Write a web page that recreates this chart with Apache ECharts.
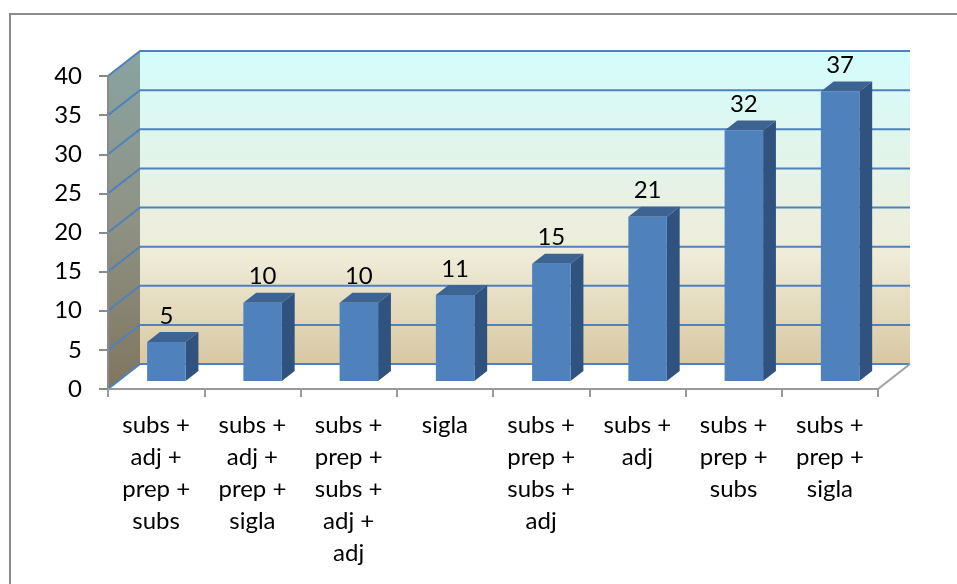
<!DOCTYPE html>
<html>
<head>
<meta charset="utf-8">
<title>Estruturas</title>
<script src="https://cdn.jsdelivr.net/npm/echarts@6/dist/echarts.min.js"></script>
<style>
  html, body { margin: 0; padding: 0; background: #ffffff; }
  #chart { width: 957px; height: 584px; }
</style>
</head>
<body>
<div id="chart"></div>
<script>
// Categories (multi-line labels) and their counts
const categories = [
  'subs +\nadj +\nprep +\nsubs',
  'subs +\nadj +\nprep +\nsigla',
  'subs +\nprep +\nsubs +\nadj +\nadj',
  'sigla',
  'subs +\nprep +\nsubs +\nadj',
  'subs +\nadj',
  'subs +\nprep +\nsubs',
  'subs +\nprep +\nsigla'
];
const values = [5, 10, 10, 11, 15, 21, 32, 37];

// Value axis ticks
const yMin = 0;
const yMax = 40;
const yStep = 5;
const yTicks = [0, 5, 10, 15, 20, 25, 30, 35, 40];

// Oblique depth of the box (back wall offset from the front plane)
const DEPTH = { x: 32, y: -25 };
// Bars sit inside the box: front face at this depth fraction, with this thickness
const BAR_FRONT = 0.32;
const BAR_DEPTH = 0.40;
const BAR_WIDTH = 0.40;

const FONT = 'Lato, "Open Sans", sans-serif';
const FONT_SIZE = 24;

const chart = echarts.init(document.getElementById('chart'), null, { renderer: 'canvas' });

function wallsRender(params, api) {
  const cs = params.coordSys;
  const x0 = cs.x, x1 = cs.x + cs.width;
  const top = api.coord([0, yMax])[1];
  const bot = api.coord([0, yMin])[1];
  const dx = DEPTH.x, dy = DEPTH.y;
  const children = [];

  // back wall
  children.push({
    type: 'polygon',
    shape: { points: [[x0 + dx, top + dy], [x1 + dx, top + dy], [x1 + dx, bot + dy], [x0 + dx, bot + dy]] },
    style: {
      fill: new echarts.graphic.LinearGradient(0, 0, 0, 1, [
        { offset: 0, color: '#d3fdfd' },
        { offset: 0.35, color: '#e3f4ea' },
        { offset: 0.65, color: '#efecd9' },
        { offset: 1, color: '#d8c8a2' }
      ])
    }
  });
  // side wall
  children.push({
    type: 'polygon',
    shape: { points: [[x0, top], [x0 + dx, top + dy], [x0 + dx, bot + dy], [x0, bot]] },
    style: {
      fill: new echarts.graphic.LinearGradient(0, 0, 0, 1, [
        { offset: 0, color: '#88a4a2' },
        { offset: 0.5, color: '#8f9284' },
        { offset: 1, color: '#80765f' }
      ])
    }
  });
  // floor
  children.push({
    type: 'polygon',
    shape: { points: [[x0, bot], [x0 + dx, bot + dy], [x1 + dx, bot + dy], [x1, bot]] },
    style: { fill: '#ffffff' }
  });
  // gridlines across side wall and back wall
  yTicks.forEach(function (v) {
    const y = api.coord([0, v])[1];
    children.push({
      type: 'polyline',
      shape: { points: [[x0, y], [x0 + dx, y + dy], [x1 + dx, y + dy]] },
      style: { stroke: '#4f81bd', lineWidth: 2, fill: null }
    });
  });
  // right edge of the floor
  children.push({
    type: 'line',
    shape: { x1: x1, y1: bot, x2: x1 + dx, y2: bot + dy },
    style: { stroke: '#a0a0a0', lineWidth: 2 }
  });
  return { type: 'group', children: children };
}

function barRender(params, api) {
  const idx = api.value(0);
  const val = api.value(1);
  const base = api.coord([idx, yMin]);
  const tip = api.coord([idx, val]);
  const band = api.size([1, 0])[0];
  const bw = band * BAR_WIDTH;
  const cx = base[0] + DEPTH.x * BAR_FRONT;
  const L = cx - bw / 2, R = cx + bw / 2;
  const B = base[1] + DEPTH.y * BAR_FRONT;
  const T = tip[1] + DEPTH.y * BAR_FRONT;
  const ddx = DEPTH.x * BAR_DEPTH, ddy = DEPTH.y * BAR_DEPTH;
  return {
    type: 'group',
    children: [
      {
        type: 'polygon',
        shape: { points: [[R, T], [R + ddx, T + ddy], [R + ddx, B + ddy], [R, B]] },
        style: { fill: '#30527e' }
      },
      {
        type: 'polygon',
        shape: { points: [[L, T], [R, T], [R + ddx, T + ddy], [L + ddx, T + ddy]] },
        style: { fill: '#3c6392' }
      },
      {
        type: 'rect',
        shape: { x: L, y: T, width: bw, height: B - T },
        style: { fill: '#4f81bd' }
      },
      {
        type: 'text',
        style: {
          x: cx, y: T + ddy - 16,
          text: String(val),
          align: 'center', verticalAlign: 'middle',
          font: FONT_SIZE + 'px ' + FONT,
          fill: '#000000'
        }
      }
    ]
  };
}

chart.setOption({
  animation: false,
  backgroundColor: '#ffffff',
  graphic: [{
    type: 'rect',
    shape: { x: 10, y: 14, width: 1200, height: 900 },
    style: { fill: null, stroke: '#8a8a8a', lineWidth: 2 },
    silent: true,
    z: 0
  }],
  grid: { left: 108, top: 76, width: 770, height: 313, containLabel: false },
  xAxis: {
    type: 'category',
    data: categories,
    z: 5,
    axisLine: { show: true, lineStyle: { color: '#9a9a9a', width: 2 } },
    axisTick: { show: true, length: 8, interval: 0, lineStyle: { color: '#9a9a9a', width: 2 } },
    axisLabel: {
      interval: 0, margin: 20,
      fontFamily: FONT, fontSize: FONT_SIZE, lineHeight: 32, color: '#000000', align: 'center'
    },
    splitLine: { show: false }
  },
  yAxis: {
    type: 'value',
    min: yMin, max: yMax, interval: yStep,
    z: 5,
    axisLine: { show: true, lineStyle: { color: '#8a8a8a', width: 2 } },
    axisTick: { show: true, length: 9, lineStyle: { color: '#8a8a8a', width: 2 } },
    axisLabel: { margin: 26, fontFamily: FONT, fontSize: FONT_SIZE, color: '#000000' },
    splitLine: { show: false }
  },
  series: [
    {
      type: 'custom',
      name: 'walls',
      silent: true,
      z: 1,
      data: [[0, 0]],
      renderItem: wallsRender
    },
    {
      type: 'custom',
      name: 'values',
      z: 2,
      data: values.map(function (v, i) { return [i, v]; }),
      renderItem: barRender
    }
  ]
});
</script>
</body>
</html>
